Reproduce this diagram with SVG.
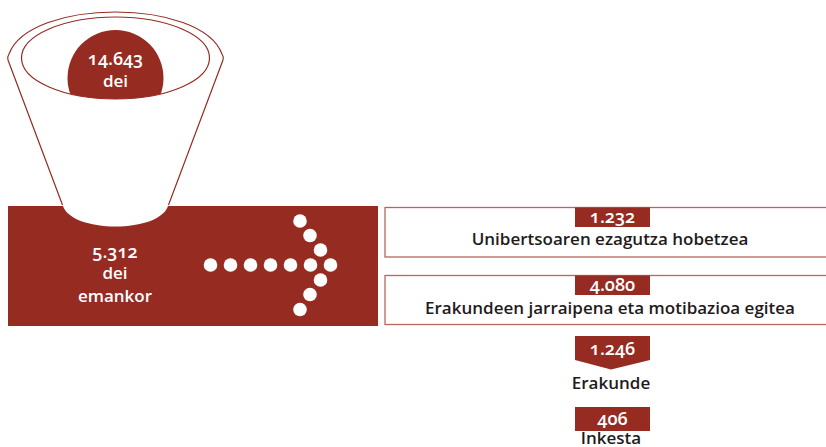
<svg xmlns="http://www.w3.org/2000/svg" width="826" height="447" viewBox="0 0 826 447">
<style>
text{font-family:"Open Sans","Noto Sans","Liberation Sans",sans-serif;text-anchor:middle;font-weight:600}
.w{fill:#fff;font-size:17px}
.n{fill:#fff;font-size:18px;font-variant-numeric:oldstyle-nums}
.k{fill:#1f1a1c;font-size:17px}
.fill{fill:#962b22}
.line{fill:none;stroke:#962b22;stroke-width:1.2}
.box{fill:#fff;stroke:#b8655e;stroke-width:1.3}
.dot{fill:#fff}
</style>
<defs><clipPath id="rim"><ellipse cx="115.5" cy="58" rx="94" ry="41"/></clipPath></defs>
<g id="band"><rect class="fill" x="8" y="206" width="370" height="120"/>
<text class="n" x="115" y="258">5.312</text><text class="w" x="115" y="279">dei</text><text class="w" x="115" y="302">emankor</text></g>
<g id="funnel">
<path d="M62.500 204 C68 234 163 234 168.500 204 Z" fill="#fff"/>
<path d="M62.500 205 L8 60 Q7 57 9 54 C30 -2 201 -2 222 54 Q224 57 223 60 L168.500 205" fill="#fff" stroke="#962b22" stroke-width="1.2"/>
<circle class="fill" cx="115.500" cy="78" r="48" clip-path="url(#rim)"/>
<ellipse class="line" cx="115.500" cy="58" rx="94" ry="41"/>
<text class="n" x="115.500" y="65">14.643</text><text class="w" x="115.500" y="87">dei</text></g>
<g id="arrow">
<circle class="dot" cx="210.500" cy="265" r="6.800"/><circle class="dot" cx="230.500" cy="265" r="6.800"/><circle class="dot" cx="250.500" cy="265" r="6.800"/><circle class="dot" cx="270.500" cy="265" r="6.800"/><circle class="dot" cx="290.500" cy="265" r="6.800"/><circle class="dot" cx="310.500" cy="265" r="6.800"/><circle class="dot" cx="330.500" cy="265" r="6.800"/>
<circle class="dot" cx="300" cy="221" r="6.800"/><circle class="dot" cx="310" cy="235.500" r="6.800"/><circle class="dot" cx="320.500" cy="250" r="6.800"/><circle class="dot" cx="320.500" cy="280" r="6.800"/><circle class="dot" cx="310" cy="294.500" r="6.800"/><circle class="dot" cx="300" cy="309.500" r="6.800"/></g>
<g id="box1"><rect class="box" x="385" y="207.500" width="445" height="49.500"/><rect class="fill" x="575" y="207.500" width="75" height="19.500"/>
<text class="n" x="612.500" y="223">1.232</text><text class="k" x="610" y="245">Unibertsoaren ezagutza hobetzea</text></g>
<g id="box2"><rect class="box" x="385" y="275.500" width="445" height="49"/><rect class="fill" x="575" y="275.500" width="75" height="19.500"/>
<text class="n" x="612.500" y="291">4.080</text><text class="k" x="610" y="314">Erakundeen jarraipena eta motibazioa egitea</text></g>
<g id="erakunde"><path class="fill" d="M575 336H650V360L611 369.500 575 360Z"/>
<text class="n" x="612.500" y="355">1.246</text><text class="k" x="611" y="389">Erakunde</text></g>
<g id="inkesta"><rect class="fill" x="575" y="407" width="75" height="24"/>
<text class="n" x="612.500" y="425">406</text><text class="k" x="611" y="444">Inkesta</text></g>
<g id="connectors"/>
</svg>
